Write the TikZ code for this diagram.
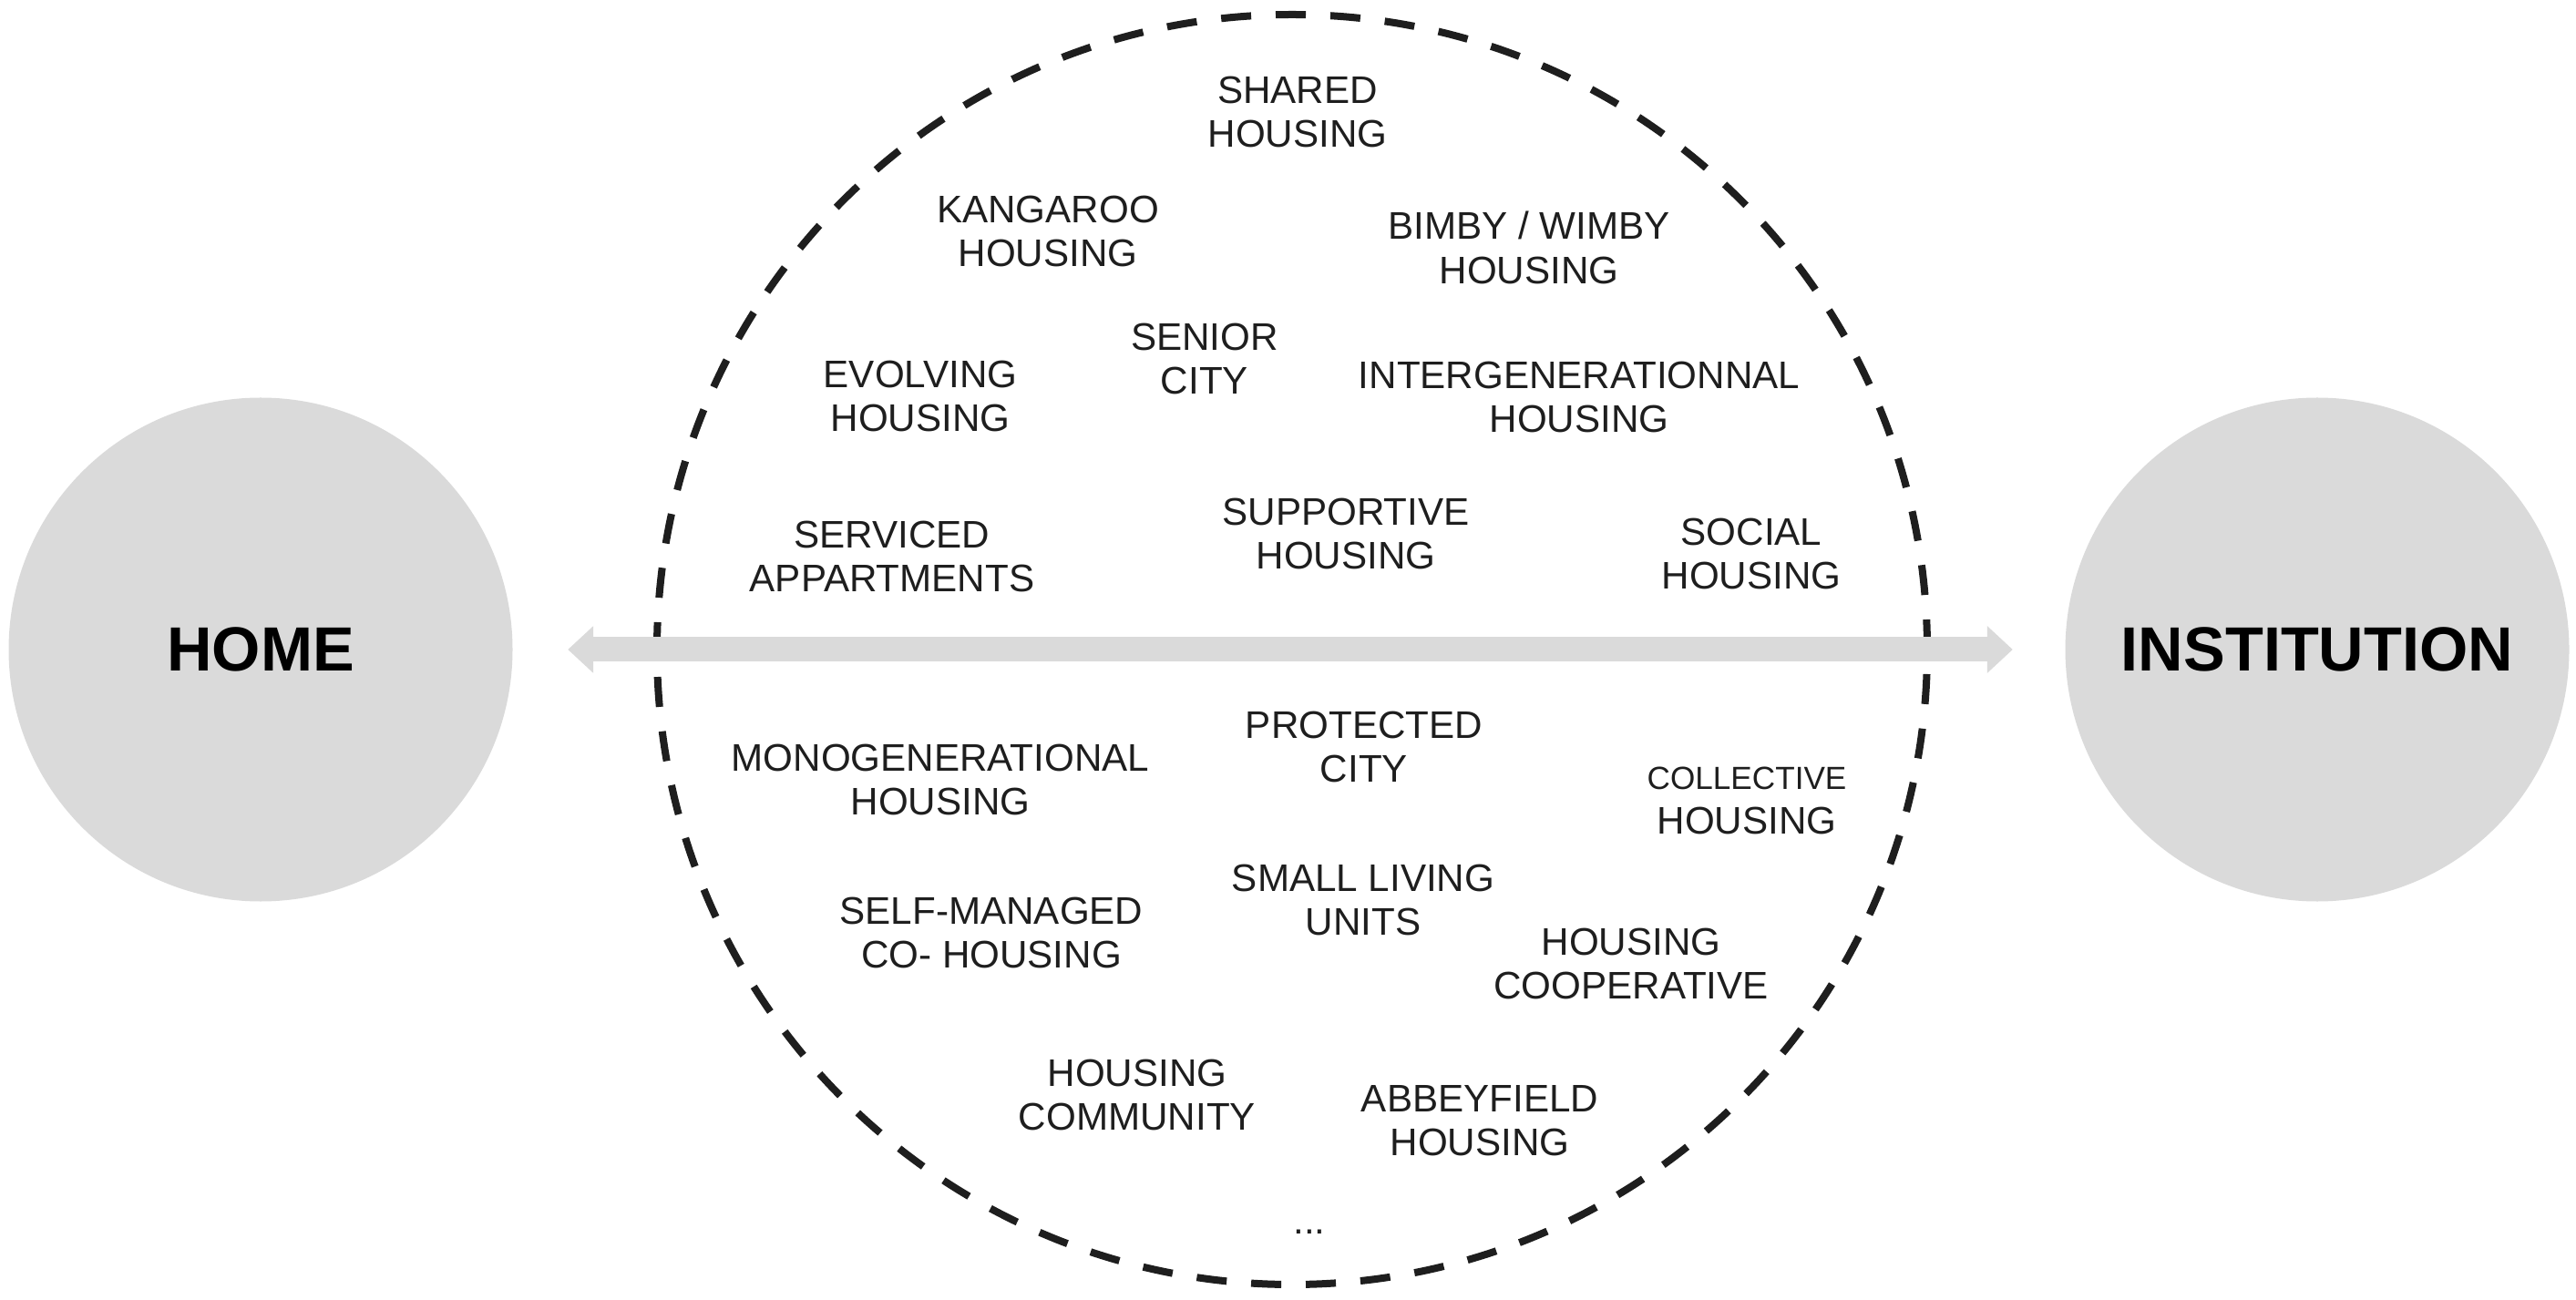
\documentclass[tikz,border=0pt]{standalone}
\usepackage{fontspec}
\setmainfont{Liberation Sans}
\usetikzlibrary{arrows.meta}
\definecolor{lightdisk}{RGB}{218,218,218}
\definecolor{darktext}{RGB}{30,30,30}

\begin{document}
\begin{tikzpicture}[
    pole/.style={circle, fill=lightdisk, minimum size=5.53cm, inner sep=0pt, text=black, font=\fontsize{19.5}{22}\selectfont\bfseries},
    kind/.style={align=center, text=darktext, inner sep=0pt, font=\fontsize{12}{13.8}\selectfont},
    spread/.style={circle, draw=darktext, line width=0.08cm, dash pattern=on 0.33cm off 0.27cm, minimum size=13.94cm, inner sep=0pt},
    >={Triangle[width=0.5cm, length=0.28cm]},
  ]
    \useasboundingbox (0,-7.13) rectangle (28.27,7.13);

    \node[pole] (home) at (2.86, 0) {HOME};
    \node[pole] (institution) at (25.43, 0) {INSTITUTION};
    \node[spread] (range) at (14.18, 0) {};

    \draw[<->, draw=lightdisk, line width=0.27cm, shorten <=0.6cm, shorten >=0.57cm] (home) -- (institution);

    % above the arrow
    \node[kind] (shared) at (14.24, 5.90) {SHARED\\HOUSING};
    \node[kind] (kangaroo) at (11.50, 4.59) {KANGAROO\\HOUSING};
    \node[kind] (bimby) at (16.78, 4.41) {BIMBY / WIMBY\\HOUSING};
    \node[kind] (senior) at (13.22, 3.19) {SENIOR\\CITY};
    \node[kind] (evolving) at (10.10, 2.78) {EVOLVING\\HOUSING};
    \node[kind] (intergen) at (17.33, 2.77) {INTERGENERATIONNAL\\HOUSING};
    \node[kind] (serviced) at (9.79, 1.02) {SERVICED\\APPARTMENTS};
    \node[kind] (supportive) at (14.77, 1.27) {SUPPORTIVE\\HOUSING};
    \node[kind] (social) at (19.22, 1.05) {SOCIAL\\HOUSING};

    % below the arrow
    \node[kind] (monogen) at (10.32, -1.43) {MONOGENERATIONAL\\HOUSING};
    \node[kind] (protected) at (14.97, -1.07) {PROTECTED\\CITY};
    \node[kind] (collective) at (19.17, -1.66) {{\fontsize{10}{13.8}\selectfont COLLECTIVE}\\HOUSING};
    \node[kind] (small) at (14.96, -2.75) {SMALL LIVING\\UNITS};
    \node[kind] (selfmanaged) at (10.88, -3.11) {SELF-MANAGED\\CO- HOUSING};
    \node[kind] (cooperative) at (17.90, -3.45) {HOUSING\\COOPERATIVE};
    \node[kind] (community) at (12.48, -4.89) {HOUSING\\COMMUNITY};
    \node[kind] (abbeyfield) at (16.24, -5.17) {ABBEYFIELD\\HOUSING};
    \node[kind] (more) at (14.37, -6.39) {...};
\end{tikzpicture}
\end{document}
